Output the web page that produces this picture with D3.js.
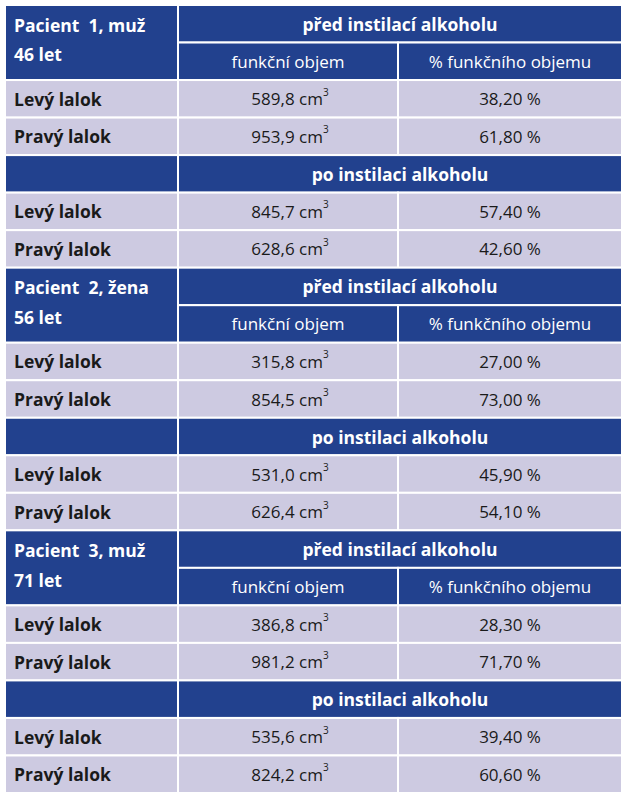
<!DOCTYPE html>
<html><head><meta charset="utf-8">
<script src="https://cdn.jsdelivr.net/npm/d3@7"></script>
<style>body{margin:0;background:#fff} text{white-space:pre}</style></head>
<body><svg id="c" width="626" height="800"></svg>
<script>
const patients = ["Pacient  1, muž", "Pacient  2, žena", "Pacient  3, muž"];
const ages = ["46 let", "56 let", "71 let"];
const phases = ["před instilací alkoholu", "po instilaci alkoholu"];
const colHeaders = ["funkční objem", "% funkčního objemu"];
const lobes = ["Levý lalok", "Pravý lalok"];
const volumes = [[589.8, 953.9, 845.7, 628.6], [315.8, 854.5, 531.0, 626.4], [386.8, 981.2, 535.6, 824.2]];
const percents = [[38.2, 61.8, 57.4, 42.6], [27.0, 73.0, 45.9, 54.1], [28.3, 71.7, 39.4, 60.6]];

const svg = d3.select("#c");
const blue = "#22418e", lav = "#cdcae1";
const fmt = (v, d) => v.toFixed(d).replace(".", ",");
const y = d3.scaleBand().domain(d3.range(21)).range([5, 793]);
const xs = [5, 178, 398, 622];
const rh = y.bandwidth();
const F = "'Open Sans', sans-serif";

function cell(x0, x1, r, span, fill) {
  svg.append("rect").attr("x", xs[x0]).attr("y", y(r)).attr("width", xs[x1] - xs[x0])
    .attr("height", rh * span).attr("fill", fill).attr("stroke", "#fff").attr("stroke-width", 2);
}
function text(x, r, s, opts) {
  const t = svg.append("text").attr("x", x).attr("y", y(r) + rh / 2 + (opts.dy || 0))
    .attr("dominant-baseline", "central").attr("font-family", F)
    .attr("font-size", opts.size || 17).attr("font-weight", opts.bold ? 700 : 400)
    .attr("fill", opts.fill || "#1a1a1a").attr("text-anchor", opts.anchor || "start");
  return t.text(s);
}
patients.forEach((p, i) => {
  const b = i * 7;
  cell(0, 1, b, 2, blue);
  text(14, b, p, {bold: true, fill: "#fff", size: 17.5, dy: 1});
  text(14, b + 1, ages[i], {bold: true, fill: "#fff", size: 17.5, dy: -7});
  [0, 1].forEach(ph => {
    const hr = ph === 0 ? b : b + 4;
    if (ph === 1) cell(0, 1, hr, 1, blue);
    cell(1, 3, hr, 1, blue);
    text((xs[1] + xs[3]) / 2, hr, phases[ph], {bold: true, fill: "#fff", size: 17.5, anchor: "middle"});
    if (ph === 0) {
      colHeaders.forEach((h, k) => {
        cell(1 + k, 2 + k, b + 1, 1, blue);
        text((xs[1 + k] + xs[2 + k]) / 2, b + 1, h, {fill: "#fff", anchor: "middle"});
      });
    }
    lobes.forEach((l, j) => {
      const r = hr + (ph === 0 ? 2 : 1) + j;
      const di = ph * 2 + j;
      [0, 1, 2].forEach(c => cell(c, c + 1, r, 1, lav));
      text(14, r, l, {bold: true, size: 17.5});
      const t = text((xs[1] + xs[2]) / 2 + 2, r, fmt(volumes[i][di], 1) + " cm", {anchor: "middle"});
      t.append("tspan").attr("font-size", 10).attr("dy", -7).text("3");
      text((xs[2] + xs[3]) / 2, r, fmt(percents[i][di], 2) + " %", {anchor: "middle"});
    });
  });
});
</script></body></html>
